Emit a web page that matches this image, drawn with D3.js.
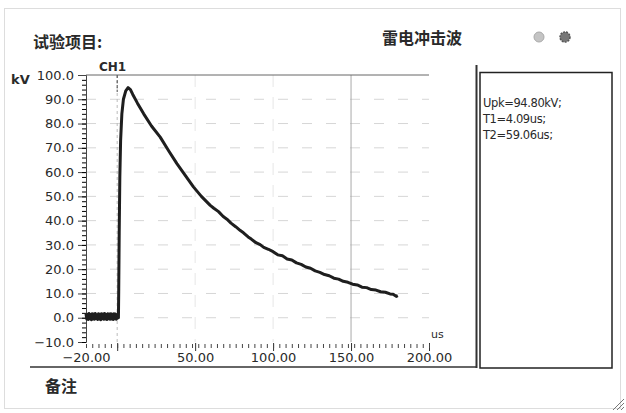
<!DOCTYPE html>
<html>
<head>
<meta charset="utf-8">
<script src="https://cdn.jsdelivr.net/npm/d3@7"></script>
<style>
  body { margin: 0; background: #fff; }
  svg text { font-family: "DejaVu Sans", sans-serif; fill: #2a2a2a; }
  .cjk { font-family: "Noto Sans CJK SC", sans-serif; }
</style>
</head>
<body>
<svg id="chart" width="626" height="413"></svg>
<script>
// y axis ticks (kV) and x axis ticks (us)
var yTicks = [-10, 0, 10, 20, 30, 40, 50, 60, 70, 80, 90, 100];
var xTicks = [-20, 50, 100, 150, 200];
var xMajor = [0, 50, 100, 150, 200];

// baseline before the impulse, a noisy band around 0
var baseTime = [-20, -19.5, -19, -18.5, -18, -17.5, -17, -16.5, -16, -15.5, -15, -14.5, -14, -13.5, -13, -12.5,
  -12, -11.5, -11, -10.5, -10, -9.5, -9, -8.5, -8, -7.5, -7, -6.5, -6, -5.5, -5, -4.5, -4, -3.5, -3, -2.5,
  -2, -1.5, -1, -0.5, 0, 0.5];
var baseKV = [1.6, -0.5, 1.4, -0.7, 1.7, -0.4, 1.3, -0.8, 1.6, -0.5, 1.5, -0.6, 1.7, -0.3, 1.2, -0.7,
  1.6, -0.5, 1.4, -0.8, 1.6, -0.4, 1.5, -0.6, 1.7, -0.5, 1.3, -0.7, 1.6, -0.4, 1.5, -0.6, 1.6, -0.5, 1.4, -0.7,
  1.6, -0.4, 1.5, -0.6, 1.1, 0.2];

// impulse: front and tail
var waveTime = [0.8, 1.0, 1.3, 1.7, 2.2, 3.0, 4.0, 5.5, 7.0, 8.5, 10, 13, 17, 22, 27.6, 33, 38.3, 44, 48.9,
  54, 59.7, 62, 65, 68, 70.4, 73, 76, 79, 81, 84, 86, 89, 91.7, 94, 97, 100, 103, 106, 109, 112, 115, 118,
  121, 124, 127, 130, 133, 136, 139, 142, 145, 148, 151, 154, 157, 160, 163, 166, 169, 172, 175, 177, 179, 180];
var waveKV = [0, 12, 35, 58, 73, 84, 90, 93.5, 94.8, 94.0, 92.0, 88.4, 84.0, 79.0, 74.4, 68.8, 63.5, 58.3, 53.9,
  50.0, 46.3, 45.1, 43.7, 41.7, 40.6, 39.0, 37.5, 35.9, 35.0, 33.3, 32.4, 30.9, 30.1, 29.0, 28.2, 27.2, 25.9,
  25.5, 24.2, 23.8, 22.6, 22.0, 20.9, 20.4, 19.3, 18.7, 17.8, 17.3, 16.3, 15.9, 15.0, 14.6, 13.8, 13.5, 12.6,
  12.4, 11.6, 11.4, 10.7, 10.5, 9.8, 9.7, 8.8, 9.1];

var results = ["Upk=94.80kV;", "T1=4.09us;", "T2=59.06us;"];

var svg = d3.select("#chart");

var x = d3.scaleLinear().domain([-20, 200]).range([86, 429]);
var y = d3.scaleLinear().domain([-10, 100]).range([342, 75]);

// outer window frame
svg.append("rect").attr("x", 4.5).attr("y", 8.5).attr("width", 616).attr("height", 400)
  .attr("fill", "none").attr("stroke", "#ddd");
// resize grip
[3, 7, 11].forEach(function(d) {
  svg.append("line").attr("x1", 624 - d).attr("y1", 410).attr("x2", 624).attr("y2", 410 - d)
    .attr("stroke", "#777").attr("stroke-width", 1);
});

// titles
svg.append("text").attr("class", "cjk").attr("x", 33).attr("y", 48).attr("font-size", 16)
  .attr("font-weight", "bold").text("试验项目:");
svg.append("text").attr("class", "cjk").attr("x", 382).attr("y", 44).attr("font-size", 16)
  .attr("font-weight", "bold").text("雷电冲击波");
svg.append("circle").attr("cx", 539).attr("cy", 37).attr("r", 5).attr("fill", "#c4c4c4").attr("stroke", "#aaa");
svg.append("circle").attr("cx", 565).attr("cy", 37).attr("r", 5).attr("fill", "#777").attr("stroke", "#555")
  .attr("stroke-width", 1.5).attr("stroke-dasharray", "2,1");

// panel frames
svg.append("line").attr("x1", 30).attr("x2", 477).attr("y1", 367).attr("y2", 367)
  .attr("stroke", "#333").attr("stroke-width", 1.5);
svg.append("line").attr("x1", 476.5).attr("x2", 476.5).attr("y1", 65).attr("y2", 368)
  .attr("stroke", "#333").attr("stroke-width", 2);
svg.append("rect").attr("x", 480).attr("y", 72.5).attr("width", 132).attr("height", 295.5)
  .attr("fill", "none").attr("stroke", "#222").attr("stroke-width", 1.5);

svg.selectAll(".res").data(results).enter().append("text")
  .attr("x", 483).attr("y", function(d, i) { return 107 + i * 16; })
  .attr("font-size", 11.5).attr("letter-spacing", -0.4).text(function(d) { return d; });

svg.append("text").attr("class", "cjk").attr("x", 45).attr("y", 392).attr("font-size", 16)
  .attr("font-weight", "bold").text("备注");

// grid
var grid = svg.append("g");
grid.selectAll(".hg").data(yTicks.filter(function(d) { return d >= 0 && d < 100; })).enter().append("line")
  .attr("x1", x(-20)).attr("x2", x(200))
  .attr("y1", function(d) { return y(d); }).attr("y2", function(d) { return y(d); })
  .attr("stroke", "#d6d6d6").attr("stroke-dasharray", "10,14");
grid.selectAll(".vg").data([50, 100]).enter().append("line")
  .attr("x1", function(d) { return x(d); }).attr("x2", function(d) { return x(d); })
  .attr("y1", y(100)).attr("y2", y(-10))
  .attr("stroke", "#e6e6e6").attr("stroke-dasharray", "12,10");
grid.append("line").attr("x1", x(150)).attr("x2", x(150)).attr("y1", y(100)).attr("y2", y(-10))
  .attr("stroke", "#aaa");
// CH1 trigger marker at t = 0
grid.append("line").attr("x1", x(0)).attr("x2", x(0)).attr("y1", y(100)).attr("y2", y(-10))
  .attr("stroke", "#bbb").attr("stroke-dasharray", "3,3");
grid.append("line").attr("x1", x(0)).attr("x2", x(0)).attr("y1", y(100)).attr("y2", y(93))
  .attr("stroke", "#444").attr("stroke-dasharray", "3,2");
// top line
grid.append("line").attr("x1", x(-20)).attr("x2", x(200)).attr("y1", y(100)).attr("y2", y(100))
  .attr("stroke", "#666");

// y axis
var yAxis = svg.append("g").attr("transform", "translate(" + x(-20) + ",0)")
  .call(d3.axisLeft(y).tickValues(yTicks).tickFormat(d3.format(".1f")).tickSize(8).tickPadding(4));
svg.append("g").attr("transform", "translate(" + x(-20) + ",0)")
  .call(d3.axisLeft(y).tickValues(d3.range(-10, 100, 2)).tickFormat("").tickSize(4))
  .call(function(g) { g.select(".domain").remove(); });
yAxis.selectAll("text").attr("font-size", 13).attr("fill", "#2a2a2a");
yAxis.selectAll("line, path").attr("stroke", "#444");

// x axis
var xAxis = svg.append("g").attr("transform", "translate(0," + (y(-10) + 1) + ")")
  .call(d3.axisBottom(x).tickValues(xMajor).tickFormat("").tickSize(8));
xAxis.select(".domain").remove();
xAxis.selectAll("line").attr("stroke", "#333");
var xMinor = svg.append("g").attr("transform", "translate(0," + (y(-10) + 2) + ")")
  .call(d3.axisBottom(x).tickValues(d3.range(-20, 201, 4)).tickFormat("").tickSize(4));
xMinor.select(".domain").remove();
xMinor.selectAll("line").attr("stroke", "#444");
var xLab = svg.append("g").attr("transform", "translate(0," + (y(-10) + 1) + ")")
  .call(d3.axisBottom(x).tickValues(xTicks).tickFormat(d3.format(".2f")).tickSize(0).tickPadding(10));
xLab.select(".domain").remove();
xLab.selectAll("text").attr("font-size", 13).attr("fill", "#2a2a2a");

// unit labels
svg.append("text").attr("x", 11).attr("y", 84).attr("font-size", 13).attr("font-weight", "bold").text("kV");
svg.append("text").attr("x", 99).attr("y", 71).attr("font-size", 12).attr("font-weight", "bold").text("CH1");
svg.append("text").attr("x", 431).attr("y", 338).attr("font-size", 11).text("us");

// waveform
var line = d3.line().x(function(d) { return x(d[0]); }).y(function(d) { return y(d[1]); });
var basePts = baseTime.map(function(t, i) { return [t, baseKV[i]]; });
var wavePts = waveTime.map(function(t, i) { return [t, waveKV[i]]; });
svg.append("path").datum(basePts.concat(wavePts)).attr("d", line)
  .attr("fill", "none").attr("stroke", "#1e1e1e").attr("stroke-width", 3)
  .attr("stroke-linejoin", "round");
</script>
</body>
</html>
